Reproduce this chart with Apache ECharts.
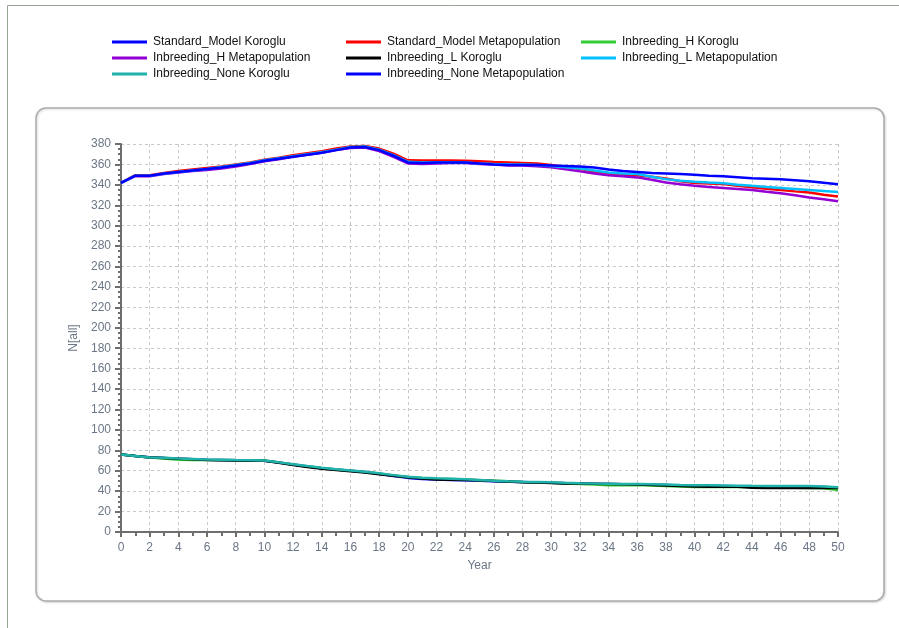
<!DOCTYPE html>
<html>
<head>
<meta charset="utf-8">
<script src="https://cdn.jsdelivr.net/npm/echarts@6/dist/echarts.min.js"></script>
<style>
  html, body { margin: 0; padding: 0; background: #ffffff; }
  #chart { width: 899px; height: 628px; }
</style>
</head>
<body>
<div id="chart"></div>
<script>
// Simulation years 0..50
const years = Array.from({ length: 51 }, (_, i) => i);

// Population size N[all] per year for each scenario
const standardModelKoroglu = [76, 74.5, 73.3, 72.5, 71.8, 71.3, 70.8, 70.5, 70.2, 70, 69.8, 68, 66, 64.2, 62.5, 61.2, 60, 58.7, 57, 54.8, 53, 52, 51.3, 51, 50.6, 50.2, 49.6, 49.2, 49, 48.6, 48.2, 47.8, 47.5, 47.2, 47, 46.8, 46.6, 46.3, 46, 45.6, 45.3, 45.2, 45, 44.8, 44.6, 44.5, 44.4, 44.3, 44.2, 44, 43.5];
const standardModelMetapop = [342, 349.5, 349.5, 351.5, 353.5, 355, 356.5, 358, 360, 362, 364.5, 366.5, 369, 371, 373, 375.5, 377.5, 378, 375.5, 370.5, 364, 363.8, 363.8, 363.8, 363.6, 363, 362.3, 362, 361.5, 360.8, 359.5, 357.5, 355.5, 353, 351.2, 350, 349.3, 348, 346.2, 343.5, 341.8, 341.2, 340.8, 339.2, 337.6, 336.2, 335, 333.6, 332.4, 330.4, 328.5];
const inbreedingHKoroglu = [76, 74.5, 73, 72, 70.8, 70.5, 70.6, 70.4, 70.2, 70.1, 70, 68, 66, 64.2, 62.6, 61.2, 60, 58.8, 57.2, 55.4, 53.8, 52.8, 52.2, 51.8, 51.3, 50.8, 50.2, 49.6, 49, 48.6, 48.3, 47.5, 47, 46.5, 45.8, 45.9, 46, 45.6, 45.1, 44.6, 44.1, 44, 44, 44, 44, 43.8, 43.5, 43.3, 43, 42.8, 41.2];
const inbreedingHMetapop = [342, 348.5, 348.5, 350.5, 352, 353.5, 354.5, 356, 358, 360.5, 363, 365, 367.5, 369.5, 371.5, 374, 376, 376.5, 373, 367.5, 361, 360.5, 361, 361.5, 361.5, 360.5, 359.8, 359, 359, 358.2, 357.2, 355.2, 353.2, 351.2, 349.4, 348.4, 347.3, 345, 342.2, 340.5, 339, 338, 337, 336, 334.9, 333.3, 331.8, 329.8, 327.5, 325.8, 324];
const inbreedingLKoroglu = [76, 74.4, 73, 72.4, 71.8, 71.2, 70.6, 70.2, 70, 69.9, 69.8, 67.8, 65.5, 63.6, 62, 60.6, 59.5, 58.2, 56.5, 55, 53.6, 52.4, 51.4, 51.2, 51, 50.6, 50, 49.4, 48.8, 48.4, 48, 47.6, 47.4, 47.2, 47, 46.8, 46.6, 46, 45.5, 45, 44.5, 44.4, 44.4, 44.2, 43.3, 43.2, 43.2, 43.2, 43.2, 43.1, 43];
const inbreedingLMetapop = [342, 349, 349, 351, 352.5, 354, 355.5, 357.5, 359.5, 361.5, 364, 366, 368, 370, 372, 374.5, 377, 377.5, 374.5, 369, 362.5, 362, 362.2, 362.2, 362, 361, 360.5, 360.2, 360, 359.5, 358.5, 357.3, 356, 354, 352, 351.2, 350.6, 348, 345.6, 344, 343, 342.2, 341.5, 340.2, 339, 338, 337, 336, 335, 334, 333];
const inbreedingNoneKoroglu = [76, 74.5, 73, 72.6, 72, 71.5, 71, 70.7, 70.4, 70.2, 70, 68.2, 66.3, 64.6, 63, 61.5, 60.2, 59, 57.5, 55.7, 54, 53.2, 52.6, 52.2, 51.6, 51, 50.3, 49.7, 49.2, 49, 48.7, 48.2, 47.8, 47.5, 47.3, 47.1, 47, 46.7, 46.4, 46, 45.8, 45.7, 45.6, 45.4, 45.2, 45.1, 45, 45, 45, 44.6, 43.8];
const inbreedingNoneMetapop = [342, 349, 349, 351, 352.5, 354, 355.5, 357, 359, 361, 363.5, 365.5, 367.5, 369.5, 371.5, 374, 376.5, 377, 374, 368.5, 362, 361.5, 362, 362, 362, 361, 360, 359.5, 359.5, 359.5, 359, 358.5, 358, 357, 355, 353.5, 352.5, 351.5, 351, 350.5, 350, 349, 348.5, 347.5, 346.5, 346, 345.5, 344.5, 343.5, 342, 340.5];

const seriesNames = [
  'Standard_Model Koroglu', 'Standard_Model Metapopulation', 'Inbreeding_H Koroglu',
  'Inbreeding_H Metapopulation', 'Inbreeding_L Koroglu', 'Inbreeding_L Metapopulation',
  'Inbreeding_None Koroglu', 'Inbreeding_None Metapopulation'
];
const seriesValues = [
  standardModelKoroglu, standardModelMetapop, inbreedingHKoroglu,
  inbreedingHMetapop, inbreedingLKoroglu, inbreedingLMetapop,
  inbreedingNoneKoroglu, inbreedingNoneMetapop
];
const seriesColors = ['#0000ff', '#ff0000', '#32cd32', '#9400d3', '#000000', '#00bfff', '#20b2aa', '#0000ff'];

// Axis ranges
const xMin = 0, xMax = 50, xStep = 2;
const yMin = 0, yMax = 380, yStep = 20;

const labelColor = '#6b7686';
const font = 'Arial, "Liberation Sans", sans-serif';

const chart = echarts.init(document.getElementById('chart'), null, { renderer: 'canvas' });

const legendCommon = {
  orient: 'vertical',
  icon: 'rect',
  itemWidth: 35,
  itemHeight: 3,
  itemGap: 2,
  padding: 0,
  selectedMode: false,
  textStyle: { fontFamily: font, fontSize: 12, color: '#111', lineHeight: 14, padding: [0, 0, 0, 1] }
};

chart.setOption({
  animation: false,
  backgroundColor: '#ffffff',
  graphic: [
    {
      type: 'rect', silent: true, z: -10,
      shape: { x: 7.5, y: 5.5, width: 1000, height: 1000 },
      style: { fill: 'none', stroke: '#97a597', lineWidth: 1 }
    },
    {
      type: 'rect', silent: true, z: -10,
      shape: { x: 36, y: 108, width: 848, height: 493, r: 10 },
      style: { fill: '#ffffff', stroke: '#acacac', lineWidth: 1.5, shadowBlur: 2, shadowColor: 'rgba(0,0,0,0.15)', shadowOffsetX: 1, shadowOffsetY: 1 }
    }
  ],
  legend: [
    Object.assign({}, legendCommon, { left: 112, top: 35, data: [seriesNames[0], seriesNames[3], seriesNames[6]] }),
    Object.assign({}, legendCommon, { left: 346, top: 35, data: [seriesNames[1], seriesNames[4], seriesNames[7]] }),
    Object.assign({}, legendCommon, { left: 581, top: 35, data: [seriesNames[2], seriesNames[5]] })
  ],
  grid: { left: 121, right: 61, top: 144, bottom: 96, containLabel: false },
  xAxis: {
    type: 'value',
    min: xMin, max: xMax, interval: xStep,
    name: 'Year',
    nameLocation: 'middle',
    nameGap: 28,
    nameTextStyle: { fontFamily: font, fontSize: 12, color: labelColor },
    axisLine: { show: true, onZero: false, lineStyle: { color: '#6e6e6e', width: 2 } },
    axisTick: { show: true, length: 5, lineStyle: { color: '#6e6e6e', width: 2 } },
    minorTick: { show: true, splitNumber: 2, length: 4, lineStyle: { color: '#6e6e6e', width: 2 } },
    axisLabel: { fontFamily: font, fontSize: 12, color: labelColor, margin: 10 },
    splitLine: { show: true, lineStyle: { color: '#c9c9c9', type: [3, 3], width: 1 } }
  },
  yAxis: {
    type: 'value',
    min: yMin, max: yMax, interval: yStep,
    name: 'N[all]',
    nameLocation: 'middle',
    nameGap: 33,
    nameTextStyle: { fontFamily: font, fontSize: 12, color: labelColor },
    axisLine: { show: true, onZero: false, lineStyle: { color: '#6e6e6e', width: 2 } },
    axisTick: { show: true, length: 6, lineStyle: { color: '#6e6e6e', width: 2 } },
    minorTick: { show: true, splitNumber: 4, length: 3, lineStyle: { color: '#6e6e6e', width: 2 } },
    axisLabel: { fontFamily: font, fontSize: 12, color: labelColor, margin: 10 },
    splitLine: { show: true, lineStyle: { color: '#c9c9c9', type: [3, 3], width: 1 } }
  },
  series: seriesNames.map((name, i) => ({
    name: name,
    type: 'line',
    showSymbol: false,
    symbol: 'none',
    color: seriesColors[i],
    lineStyle: { width: 2.5, color: seriesColors[i] },
    data: years.map((y, j) => [y, seriesValues[i][j]])
  }))
});
</script>
</body>
</html>
